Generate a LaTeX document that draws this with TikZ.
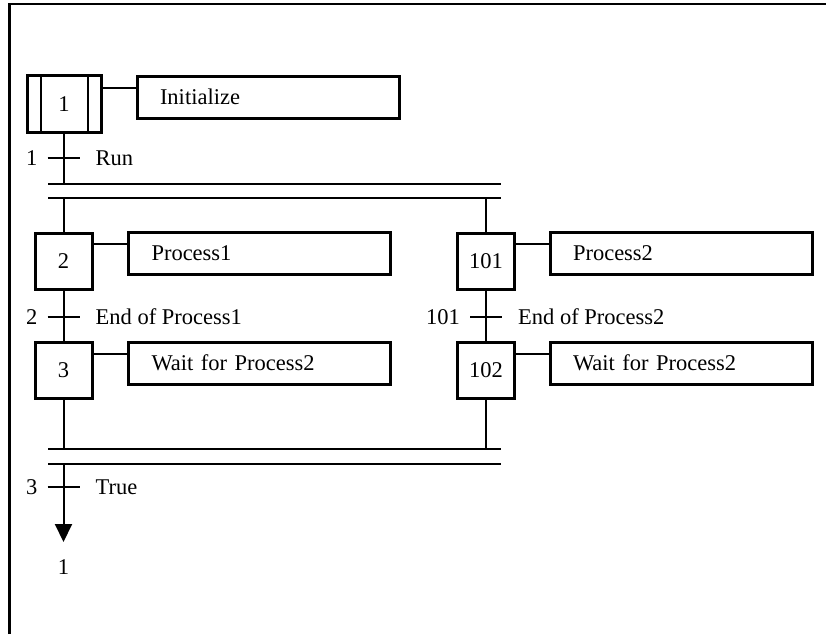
\documentclass[tikz,border=0pt]{standalone}
\usepackage{fontspec}
\setmainfont{Liberation Serif}
\usetikzlibrary{arrows.meta}

\begin{document}
\begin{tikzpicture}[x=1pt,y=-1pt,
  txt/.style={font=\fontsize{22.5}{27}\selectfont},
  stepbox/.style={draw, line width=3pt, minimum width=57pt, minimum height=56pt, inner sep=0pt, txt},
  actbox/.style={draw, line width=3pt, text width=216pt, inner xsep=23pt, inner ysep=0pt,
                 minimum height=42pt, align=left, txt},
  link/.style={line width=2pt},
  bar/.style={line width=2pt},
  tick/.style={line width=2pt},
  lbl/.style={inner sep=0pt, txt}]

\useasboundingbox (0,0) rectangle (826,634);

% outer frame (only top and left edges visible)
\draw[line width=2.5pt] (9.5,634) -- (9.5,4) -- (826,4);

% steps
\node[stepbox, minimum width=74pt, minimum height=57pt] (s1) at (64,104) {1};
\draw[line width=2pt] ([xshift=-23.5pt]s1.north) -- ([xshift=-23.5pt]s1.south);
\draw[line width=2pt] ([xshift=23.5pt]s1.north) -- ([xshift=23.5pt]s1.south);

\node[stepbox] (s2)   at (63.5,261.5) {2};
\node[stepbox] (s3)   at (63.5,370)   {3};
\node[stepbox] (s101) at (486,261.5)  {101};
\node[stepbox] (s102) at (486,370)    {102};

% actions
\node[actbox] (a1)   at (268,97)     {Initialize};
\node[actbox] (a2)   at (259.5,253.5) {Process1};
\node[actbox] (a3)   at (259.5,363)   {Wait for Process2};
\node[actbox] (a101) at (681,253.5)   {Process2};
\node[actbox] (a102) at (681,363)     {Wait for Process2};

% step-to-action links
\foreach \s/\a in {s1/a1, s2/a2, s3/a3, s101/a101, s102/a102}
  \draw[link] ([yshift=-13pt]\a.north west) -- ([yshift=-13pt]\a.north west -| \s.east);

% simultaneous divergence / convergence bars
\coordinate (divA) at (48,184);  \coordinate (divB) at (501,184);
\coordinate (divC) at (48,198);  \coordinate (divD) at (501,198);
\coordinate (conA) at (48,449);  \coordinate (conB) at (501,449);
\coordinate (conC) at (48,464);  \coordinate (conD) at (501,464);
\draw[bar] (divA) -- (divB);
\draw[bar] (divC) -- (divD);
\draw[bar] (conA) -- (conB);
\draw[bar] (conC) -- (conD);

% vertical flow
\draw[link] (s1.south) -- (s1.south |- divA);
\draw[link] (s2.north |- divC) -- (s2.north);
\draw[link] (s101.north |- divC) -- (s101.north);
\draw[link] (s2.south) -- (s3.north);
\draw[link] (s101.south) -- (s102.north);
\draw[link] (s3.south) -- (s3.south |- conA);
\draw[link] (s102.south) -- (s102.south |- conA);

% return jump
\node[lbl] (back) at (63.5,567) {1};
\coordinate (ret) at (63.5,542);
\draw[link, -{Triangle[length=18pt,width=17pt]}] (s3.south |- conC) -- (ret);

% transitions
\coordinate (t1)   at (63.5,158);
\coordinate (t2)   at (63.5,317);
\coordinate (t101) at (486,317);
\coordinate (t3)   at (63.5,487);
\foreach \t/\n/\c in {t1/1/Run, t2/2/End of Process1, t101/101/End of Process2, t3/3/True} {
  \draw[tick] ([xshift=-16pt]\t) -- ([xshift=16pt]\t);
  \node[lbl, anchor=base east] (\t num) at ([xshift=-26pt,yshift=-7.5pt]\t) {\n};
  \node[lbl, anchor=base west] (\t cond) at ([xshift=32pt,yshift=-7.5pt]\t) {\c};
}
\end{tikzpicture}
\end{document}
